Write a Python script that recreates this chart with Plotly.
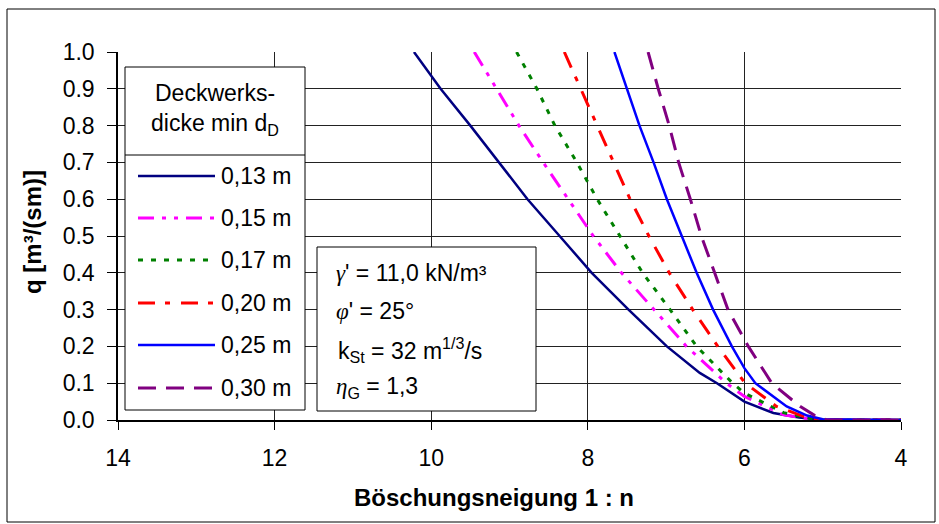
import plotly.graph_objects as go

# ---------------- data ----------------
n_013 = [10.22, 9.88, 9.50, 9.13, 8.77, 8.36, 7.95, 7.48, 6.99, 6.57, 6.35, 6.00, 5.63, 5.30, 5.00, 4.50, 4.00]
q_013 = [1.00, 0.90, 0.80, 0.70, 0.60, 0.50, 0.40, 0.30, 0.20, 0.128, 0.10, 0.05, 0.019, 0.007, 0.0, 0.0, 0.0]

n_015 = [9.45, 9.16, 8.88, 8.57, 8.25, 7.93, 7.57, 7.16, 6.74, 6.23, 6.00, 5.50, 5.20, 5.00, 4.00]
q_015 = [1.00, 0.90, 0.80, 0.70, 0.60, 0.50, 0.40, 0.30, 0.20, 0.10, 0.064, 0.014, 0.004, 0.0, 0.0]

n_017 = [8.91, 8.65, 8.42, 8.14, 7.88, 7.59, 7.30, 6.95, 6.61, 6.15, 6.00, 5.50, 5.20, 5.00, 4.00]
q_017 = [1.00, 0.90, 0.80, 0.70, 0.60, 0.50, 0.40, 0.30, 0.20, 0.10, 0.073, 0.02, 0.006, 0.0, 0.0]

n_020 = [8.30, 8.09, 7.89, 7.68, 7.46, 7.22, 6.96, 6.66, 6.34, 5.99, 5.59, 5.25, 5.00, 4.00]
q_020 = [1.00, 0.90, 0.80, 0.70, 0.60, 0.50, 0.40, 0.30, 0.20, 0.10, 0.037, 0.01, 0.0, 0.0]

n_025 = [7.66, 7.50, 7.34, 7.16, 6.99, 6.80, 6.61, 6.40, 6.16, 6.00, 5.86, 5.46, 5.20, 5.00, 4.00]
q_025 = [1.00, 0.90, 0.80, 0.70, 0.60, 0.50, 0.40, 0.30, 0.20, 0.141, 0.10, 0.037, 0.012, 0.002, 0.0]

n_030 = [7.23, 7.10, 6.96, 6.84, 6.69, 6.55, 6.38, 6.21, 5.95, 5.65, 5.29, 5.10, 4.95, 4.00]
q_030 = [1.00, 0.90, 0.80, 0.70, 0.60, 0.50, 0.40, 0.30, 0.20, 0.10, 0.037, 0.012, 0.0, 0.0]

series_labels = ["0,13 m", "0,15 m", "0,17 m", "0,20 m", "0,25 m", "0,30 m"]
x_ticks = [14, 12, 10, 8, 6, 4]
y_ticks = [0.0, 0.1, 0.2, 0.3, 0.4, 0.5, 0.6, 0.7, 0.8, 0.9, 1.0]

# ---------------- styling ----------------
FONT = "Liberation Sans, Arial, sans-serif"
SERIF = "Liberation Serif, Times New Roman, serif"
W, H = 939, 524
ML, MR, MT, MB = 118, 38, 52, 104
PW, PH = W - ML - MR, H - MT - MB

def px(x):
    return (x - ML) / PW

def py(y):
    return (H - MB - y) / PH

styles = [
    dict(color="#000080", width=2.5, dash="solid"),
    dict(color="#FF00FF", width=3, dash="16px,8px,4px,8px,4px,8px"),
    dict(color="#008000", width=3, dash="5px,8px"),
    dict(color="#FF0000", width=3, dash="17px,10px,5px,11px"),
    dict(color="#0000FF", width=2.5, dash="solid"),
    dict(color="#800080", width=3, dash="18px,10px"),
]
xs = [n_013, n_015, n_017, n_020, n_025, n_030]
ys = [q_013, q_015, q_017, q_020, q_025, q_030]

fig = go.Figure()
for x, y, lab, st in zip(xs, ys, series_labels, styles):
    fig.add_trace(go.Scatter(x=x, y=y, mode="lines", name=lab, line=st, showlegend=False))

fig.update_layout(
    width=W, height=H,
    margin=dict(l=ML, r=MR, t=MT, b=MB, pad=0),
    paper_bgcolor="white", plot_bgcolor="white",
    font=dict(family=FONT, size=23, color="black"),
    showlegend=False,
)
fig.update_xaxes(
    range=[14, 4], tickvals=x_ticks, ticktext=[str(v) for v in x_ticks],
    showgrid=True, gridcolor="#222", gridwidth=1,
    showline=True, linecolor="black", linewidth=1.5,
    ticks="outside", ticklen=8, tickcolor="black", tickwidth=1,
    tickfont=dict(size=23), zeroline=False, ticklabelstandoff=9,
)
fig.update_yaxes(
    range=[0, 1], tickvals=y_ticks, ticktext=[f"{v:.1f}" for v in y_ticks],
    showgrid=True, gridcolor="#222", gridwidth=1,
    showline=True, linecolor="black", linewidth=1.5,
    ticks="outside", ticklen=9, tickcolor="black", tickwidth=1,
    tickfont=dict(size=23), zeroline=False, ticklabelstandoff=8,
)

shapes = []
# outer chart border
shapes.append(dict(type="rect", xref="paper", yref="paper",
                   x0=px(7), x1=px(935), y0=py(522), y1=py(9),
                   line=dict(color="black", width=1), fillcolor="rgba(0,0,0,0)", layer="above"))
# legend box
shapes.append(dict(type="rect", xref="paper", yref="paper",
                   x0=px(125), x1=px(305), y0=py(410), y1=py(67), line=dict(color="black", width=1),
                   fillcolor="white", layer="above"))
shapes.append(dict(type="line", xref="paper", yref="paper",
                   x0=px(125), x1=px(305), y0=py(155), y1=py(155), line=dict(color="black", width=1), layer="above"))
# parameter box
shapes.append(dict(type="rect", xref="paper", yref="paper",
                   x0=px(317), x1=px(536), y0=py(411), y1=py(247), line=dict(color="black", width=1),
                   fillcolor="white", layer="above"))
entry_y = [176, 218, 260, 303, 345, 388]
for ey, st in zip(entry_y, styles):
    shapes.append(dict(type="line", xref="paper", yref="paper",
                       x0=px(138), x1=px(215), y0=py(ey), y1=py(ey),
                       line=dict(color=st["color"], width=st["width"], dash=st["dash"]), layer="above"))
fig.update_layout(shapes=shapes)

ann = []
def add_text(text, x, y, xanchor="left", size=23, **kw):
    ann.append(dict(text=text, xref="paper", yref="paper", x=px(x), y=py(y),
                    xanchor=xanchor, yanchor="middle", showarrow=False,
                    font=dict(family=FONT, size=size, color="black"), **kw))

add_text("Deckwerks-", 215, 93, xanchor="center")
add_text("dicke min d<sub>D</sub>", 215, 124, xanchor="center")
for ey, lab in zip(entry_y, series_labels):
    add_text(lab, 219, ey)

g = lambda s: f"<span style='font-family:{SERIF};font-style:italic'>{s}</span>"
add_text(g("γ") + "' = 11,0 kN/m³", 334, 273)
add_text(g("φ") + "' = 25°", 334, 311)
add_text("k<sub>St</sub> = 32 m<sup>1/3</sup>/s", 336, 350)
add_text(g("η") + "<sub>G</sub> = 1,3", 334, 387)

# axis titles
add_text("<b>Böschungsneigung 1 : n</b>", 494, 497, xanchor="center", size=24)
ann.append(dict(text="<b>q [m³/(sm)]</b>", xref="paper", yref="paper", x=px(33), y=py(232),
                xanchor="center", yanchor="middle", textangle=-90, showarrow=False,
                font=dict(family=FONT, size=24, color="black")))
fig.update_layout(annotations=ann)

fig.write_html("out.html",
               config={"displayModeBar": False},
               post_script="document.body.style.margin='0px';document.body.style.overflow='hidden';")
